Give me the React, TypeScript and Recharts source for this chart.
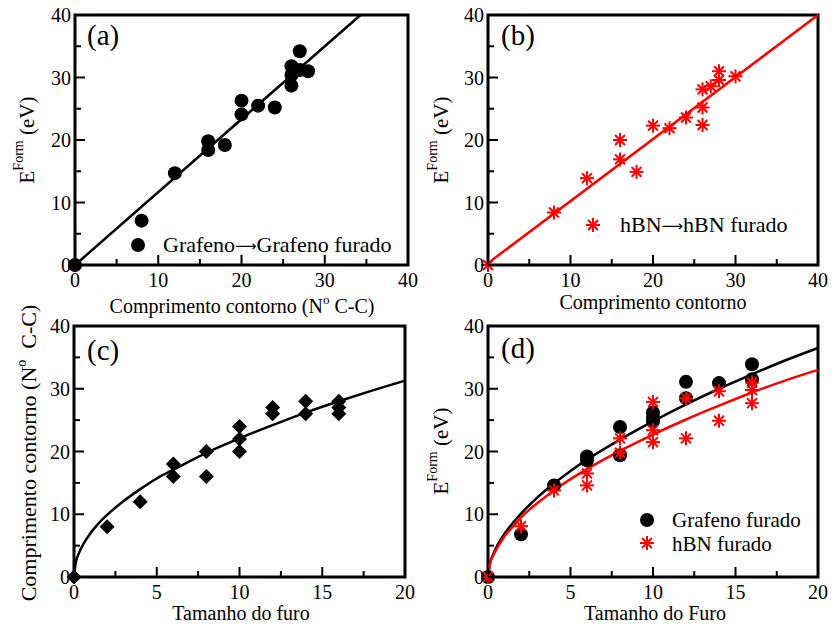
import React from 'react'
import { ComposedChart, Scatter, Line, XAxis, YAxis, ReferenceArea } from 'recharts'

const FONT = '"Liberation Serif", "Times New Roman", serif'
const RED = '#ff0000'

// (a) grafeno: comprimento do contorno (nº de ligações C-C) vs energia de formação
const grafenoContorno = [0, 8, 12, 16, 16, 18, 20, 20, 22, 24, 26, 26, 26, 27, 27, 28]
const grafenoEnergiaContorno = [0, 7.1, 14.7, 19.8, 18.4, 19.2, 26.3, 24.1, 25.5, 25.2, 31.8, 30.4, 28.7, 34.2, 31.2, 31.0]
const ajusteAX = [0, 34.3]
const ajusteAY = [0, 40]

// (b) hBN: comprimento do contorno vs energia de formação
const hbnContorno = [0, 8, 12, 16, 16, 18, 20, 22, 24, 26, 26, 26, 27, 28, 28, 30]
const hbnEnergiaContorno = [0, 8.4, 13.9, 20.0, 16.9, 14.9, 22.3, 21.9, 23.6, 28.1, 25.2, 22.4, 28.6, 31.0, 29.6, 30.2]
const ajusteBX = [0, 40]
const ajusteBY = [0.3, 40]

// (c) tamanho do furo vs comprimento do contorno
const furoC = [0, 2, 4, 6, 6, 8, 8, 10, 10, 10, 12, 12, 14, 14, 16, 16, 16]
const contornoC = [0, 8, 12, 18, 16, 20, 16, 24, 22, 20, 27, 26, 28, 26, 28, 27, 26]

// (d) tamanho do furo vs energia de formação
const furoGrafeno = [0, 2, 4, 6, 6, 8, 8, 10, 10, 10, 12, 12, 14, 16, 16]
const energiaGrafeno = [0, 6.8, 14.6, 19.2, 18.6, 23.9, 19.4, 26.2, 25.5, 24.8, 31.1, 28.5, 30.9, 33.9, 31.5]
const furoHbn = [0, 2, 4, 6, 6, 8, 8, 10, 10, 10, 12, 12, 14, 14, 16, 16, 16]
const energiaHbn = [0, 8.1, 13.8, 16.5, 14.6, 22.1, 19.8, 27.9, 23.4, 21.5, 28.5, 22.1, 29.6, 24.9, 31.0, 29.8, 27.7]

// curvas de ajuste lidas ao longo do eixo do furo
const ajusteFuro = [0, 0.1, 0.3, 0.6, 1, 1.5, 2, 3, 4, 5, 6, 8, 10, 12, 14, 16, 18, 20]
const ajusteContornoC = [0, 2.2, 3.8, 5.4, 7.0, 8.6, 9.9, 12.1, 14.0, 15.7, 17.1, 19.8, 22.1, 24.2, 26.2, 28.0, 29.7, 31.3]
const ajusteGrafenoD = [0, 1.9, 3.5, 5.2, 6.9, 8.6, 10.1, 12.7, 14.9, 16.9, 18.7, 21.9, 24.8, 27.5, 30.0, 32.3, 34.5, 36.5]
const ajusteHbnD = [0, 1.9, 3.4, 4.8, 6.5, 8.0, 9.5, 11.8, 13.8, 15.6, 17.2, 20.1, 22.7, 25.1, 27.3, 29.4, 31.3, 33.0]

const ticks40 = [0, 5, 10, 15, 20, 25, 30, 35, 40]
const labels40 = [0, 10, 20, 30, 40]
const ticks20 = [0, 2.5, 5, 7.5, 10, 12.5, 15, 17.5, 20]
const labels20 = [0, 5, 10, 15, 20]

type Pt = { x: number; y: number }
const zip = (xs: number[], ys: number[]): Pt[] => xs.map((x, i) => ({ x, y: ys[i] }))

const tickText = { fontFamily: FONT, fontSize: 20, fill: '#000' }
const MAJOR = 10
const MINOR = 6

const bottomTick = (labels: number[]) => (p: any) => {
  const v = p.payload.value
  const major = labels.includes(v)
  return (
    <g>
      <line x1={p.x} x2={p.x} y1={p.y} y2={p.y - (major ? MAJOR : MINOR)} stroke="#000" strokeWidth={2} />
      {major && (
        <text x={p.x} y={p.y + 22} textAnchor="middle" style={tickText}>
          {v}
        </text>
      )}
    </g>
  )
}

const topTick = (labels: number[]) => (p: any) => {
  const major = labels.includes(p.payload.value)
  return <line x1={p.x} x2={p.x} y1={p.y} y2={p.y + (major ? MAJOR : MINOR)} stroke="#000" strokeWidth={2} />
}

const leftTick = (labels: number[]) => (p: any) => {
  const v = p.payload.value
  const major = labels.includes(v)
  return (
    <g>
      <line x1={p.x} x2={p.x + (major ? MAJOR : MINOR)} y1={p.y} y2={p.y} stroke="#000" strokeWidth={2} />
      {major && (
        <text x={p.x - 4} y={p.y + 7} textAnchor="end" style={tickText}>
          {v}
        </text>
      )}
    </g>
  )
}

const rightTick = (labels: number[]) => (p: any) => {
  const major = labels.includes(p.payload.value)
  return <line x1={p.x} x2={p.x - (major ? MAJOR : MINOR)} y1={p.y} y2={p.y} stroke="#000" strokeWidth={2} />
}

// símbolos
const Dot = (p: any) => <circle cx={p.cx} cy={p.cy} r={7} fill="#000" />

const Diamond = (p: any) => {
  const r = 7.5
  return (
    <polygon
      points={`${p.cx},${p.cy - r} ${p.cx + r},${p.cy} ${p.cx},${p.cy + r} ${p.cx - r},${p.cy}`}
      fill="#000"
    />
  )
}

const Asterisk = (p: any) => {
  const r = 7
  const d = r * 0.707
  return (
    <g stroke={RED} strokeWidth={2}>
      <line x1={p.cx - r} y1={p.cy} x2={p.cx + r} y2={p.cy} />
      <line x1={p.cx} y1={p.cy - r} x2={p.cx} y2={p.cy + r} />
      <line x1={p.cx - d} y1={p.cy - d} x2={p.cx + d} y2={p.cy + d} />
      <line x1={p.cx - d} y1={p.cy + d} x2={p.cx + d} y2={p.cy - d} />
    </g>
  )
}

interface PanelProps {
  left: number
  top: number
  width: number
  height: number
  xMax: number
  xTicks: number[]
  xLabels: number[]
  children: React.ReactNode
}

// um painel: área de plotagem posicionada em (left, top) com moldura e ticks internos
function Panel({ left, top, width, height, xMax, xTicks, xLabels, children }: PanelProps) {
  return (
    <div style={{ position: 'absolute', left: left - 70, top: top - 15 }}>
      <ComposedChart
        width={width + 82}
        height={height + 60}
        margin={{ top: 15, right: 12, bottom: 5, left: 20 }}
      >
        <XAxis
          type="number"
          dataKey="x"
          domain={[0, xMax]}
          ticks={xTicks}
          interval={0}
          height={40}
          axisLine={false}
          tickLine={false}
          tickSize={0}
          tickMargin={0}
          tick={bottomTick(xLabels)}
        />
        <XAxis
          xAxisId="top"
          orientation="top"
          type="number"
          dataKey="x"
          domain={[0, xMax]}
          ticks={xTicks}
          interval={0}
          height={0}
          axisLine={false}
          tickLine={false}
          tickSize={0}
          tickMargin={0}
          tick={topTick(xLabels)}
        />
        <YAxis
          type="number"
          dataKey="y"
          domain={[0, 40]}
          ticks={ticks40}
          interval={0}
          width={50}
          axisLine={false}
          tickLine={false}
          tickSize={0}
          tickMargin={0}
          tick={leftTick(labels40)}
        />
        <YAxis
          yAxisId="right"
          orientation="right"
          type="number"
          dataKey="y"
          domain={[0, 40]}
          ticks={ticks40}
          interval={0}
          width={0}
          axisLine={false}
          tickLine={false}
          tickSize={0}
          tickMargin={0}
          tick={rightTick(labels40)}
        />
        <ReferenceArea x1={0} x2={xMax} y1={0} y2={40} fill="none" stroke="#000" strokeWidth={3} />
        {children}
      </ComposedChart>
    </div>
  )
}

const fitLine = (data: Pt[], color: string, curved: boolean) => (
  <Line
    data={data}
    dataKey="y"
    type={curved ? 'monotone' : 'linear'}
    stroke={color}
    strokeWidth={2.5}
    dot={false}
    activeDot={false}
    isAnimationActive={false}
  />
)

// seta longa entre os nomes da legenda
const Arrow = () => (
  <tspan fontFamily='"DejaVu Sans", sans-serif' fontSize={15} dy={-1}>
    ⟶
  </tspan>
)

function Annotations() {
  const label = { fontFamily: FONT, fill: '#000' }
  return (
    <svg
      width={832}
      height={627}
      style={{ position: 'absolute', left: 0, top: 0, pointerEvents: 'none' }}
    >
      {/* rótulos dos painéis */}
      <text x={87} y={45} style={{ ...label, fontSize: 29 }}>(a)</text>
      <text x={501} y={45} style={{ ...label, fontSize: 29 }}>(b)</text>
      <text x={87} y={360} style={{ ...label, fontSize: 29 }}>(c)</text>
      <text x={501} y={358} style={{ ...label, fontSize: 29 }}>(d)</text>

      {/* títulos dos eixos x */}
      <text x={242} y={313} textAnchor="middle" style={{ ...label, fontSize: 20 }}>
        Comprimento contorno (N
        <tspan dy={-9} fontSize={13}>o</tspan>
        <tspan dy={9}> C-C)</tspan>
      </text>
      <text x={653} y={309} textAnchor="middle" style={{ ...label, fontSize: 20 }}>
        Comprimento contorno
      </text>
      <text x={241} y={620} textAnchor="middle" style={{ ...label, fontSize: 20 }}>
        Tamanho do furo
      </text>
      <text x={655} y={620} textAnchor="middle" style={{ ...label, fontSize: 20 }}>
        Tamanho do Furo
      </text>

      {/* títulos dos eixos y */}
      {[
        { x: 34, y: 140 },
        { x: 448, y: 140 },
        { x: 448, y: 451 },
      ].map((p, i) => (
        <text
          key={i}
          transform={`translate(${p.x},${p.y}) rotate(-90)`}
          textAnchor="middle"
          style={{ ...label, fontSize: 21 }}
        >
          E<tspan dy={-11} fontSize={14}>Form</tspan>
          <tspan dy={11}> (eV)</tspan>
        </text>
      ))}
      <text
        transform="translate(36,453) rotate(-90)"
        textAnchor="middle"
        style={{ ...label, fontSize: 22 }}
      >
        Comprimento contorno (N
        <tspan dy={-10} fontSize={14}>o</tspan>
        <tspan dy={10}>{'\u00a0 C-C)'}</tspan>
      </text>

      {/* legendas */}
      <circle cx={138} cy={245} r={7} fill="#000" />
      <text x={163} y={252} style={{ ...label, fontSize: 22 }}>
        Grafeno<Arrow /><tspan dy={1}>Grafeno furado</tspan>
      </text>

      <Asterisk cx={593} cy={225} />
      <text x={620} y={232} style={{ ...label, fontSize: 22 }}>
        hBN<Arrow /><tspan dy={1}>hBN furado</tspan>
      </text>

      <circle cx={647} cy={520} r={7} fill="#000" />
      <text x={672} y={527} style={{ ...label, fontSize: 21 }}>Grafeno furado</text>
      <Asterisk cx={647} cy={543} />
      <text x={672} y={551} style={{ ...label, fontSize: 21 }}>hBN furado</text>
    </svg>
  )
}

export default function App() {
  return (
    <div style={{ position: 'absolute', left: 0, top: 0, width: 832, height: 627, background: '#fff', overflow: 'hidden' }}>
      <Panel left={75} top={15} width={333} height={250} xMax={40} xTicks={ticks40} xLabels={labels40}>
        {fitLine(zip(ajusteAX, ajusteAY), '#000', false)}
        <Scatter data={zip(grafenoContorno, grafenoEnergiaContorno)} shape={Dot} isAnimationActive={false} />
      </Panel>

      <Panel left={488} top={15} width={330} height={250} xMax={40} xTicks={ticks40} xLabels={labels40}>
        {fitLine(zip(ajusteBX, ajusteBY), RED, false)}
        <Scatter data={zip(hbnContorno, hbnEnergiaContorno)} shape={Asterisk} isAnimationActive={false} />
      </Panel>

      <Panel left={74} top={326} width={331} height={251} xMax={20} xTicks={ticks20} xLabels={labels20}>
        {fitLine(zip(ajusteFuro, ajusteContornoC), '#000', true)}
        <Scatter data={zip(furoC, contornoC)} shape={Diamond} isAnimationActive={false} />
      </Panel>

      <Panel left={488} top={326} width={330} height={251} xMax={20} xTicks={ticks20} xLabels={labels20}>
        {fitLine(zip(ajusteFuro, ajusteGrafenoD), '#000', true)}
        {fitLine(zip(ajusteFuro, ajusteHbnD), RED, true)}
        <Scatter data={zip(furoGrafeno, energiaGrafeno)} shape={Dot} isAnimationActive={false} />
        <Scatter data={zip(furoHbn, energiaHbn)} shape={Asterisk} isAnimationActive={false} />
      </Panel>

      <Annotations />
    </div>
  )
}
